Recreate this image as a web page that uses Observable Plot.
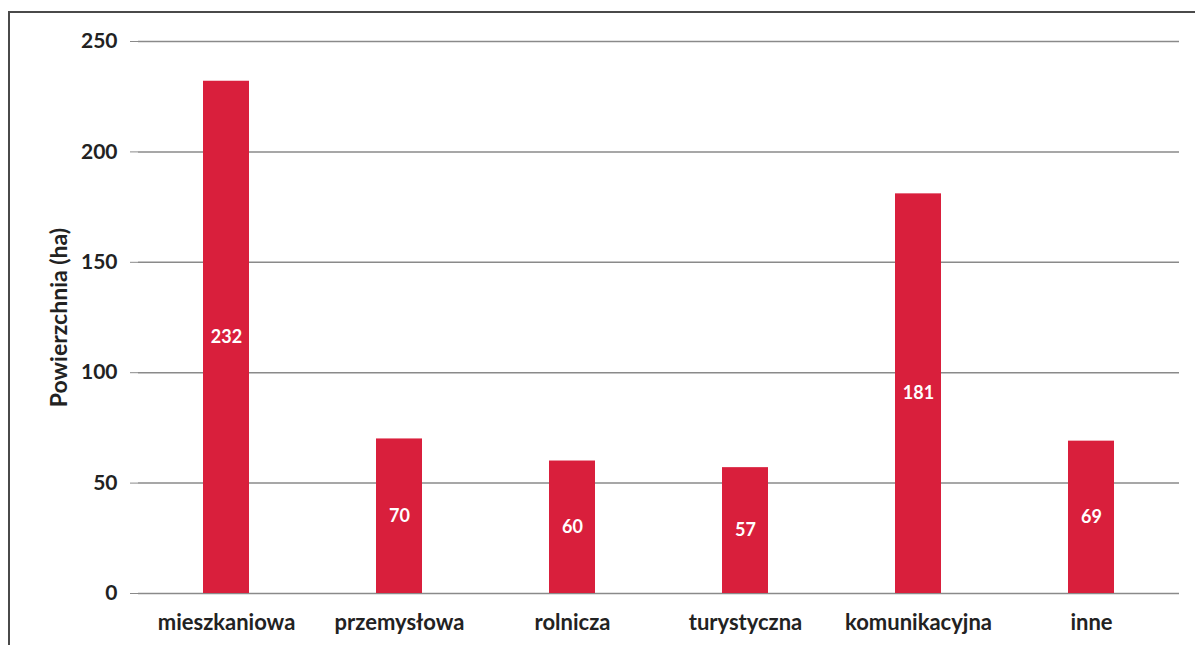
<!DOCTYPE html>
<html>
<head>
<meta charset="utf-8">
<script src="https://cdn.jsdelivr.net/npm/d3@7"></script>
<script src="https://cdn.jsdelivr.net/npm/@observablehq/plot@0.6"></script>
<style>
  html, body { margin: 0; padding: 0; background: #fff; }
  #wrap { position: relative; width: 1195px; height: 647px; overflow: hidden; }
  #frame { position: absolute; left: 8px; top: 11px; width: 1200px; height: 632px;
           border-left: 2px solid #4a4a4a; border-top: 2px solid #4a4a4a; pointer-events: none; }
  #chart { position: absolute; left: 0; top: 0; }
</style>
</head>
<body>
<div id="wrap">
  <div id="chart"></div>
  <div id="frame"></div>
</div>
<script>
const categories = ["mieszkaniowa", "przemysłowa", "rolnicza", "turystyczna", "komunikacyjna", "inne"];
const values = [232, 70, 60, 57, 181, 69];
const yTicks = [0, 50, 100, 150, 200, 250];
const yLabel = "Powierzchnia (ha)";

const data = categories.map((c, i) => ({category: c, value: values[i]}));
const font = "Lato, 'Open Sans', sans-serif";

const chart = Plot.plot({
  width: 1195,
  height: 647,
  marginLeft: 138,
  marginRight: 16,
  marginTop: 41,
  marginBottom: 54,
  style: {fontFamily: font, background: "#fff"},
  x: {domain: categories, paddingInner: 0.735, paddingOuter: 0.3675},
  y: {domain: [0, 250]},
  marks: [
    Plot.ruleY(yTicks, {stroke: "#8a8a8a", strokeWidth: 1.5}),
    Plot.ruleX([0], {frameAnchor: "left", stroke: "#a0a0a0", strokeWidth: 1.2}),
    Plot.barY(data, {x: "category", y: "value", fill: "#d91f3c"}),
    Plot.text(data, {
      x: "category", y: d => d.value / 2, text: d => String(d.value),
      fill: "white", fontWeight: "bold", fontSize: 18
    }),
    Plot.axisY({
      ticks: yTicks, tickSize: 8, tickPadding: 13, stroke: "#8a8a8a",
      fontSize: 21, fontWeight: "bold", fill: "#222", label: null
    }),
    Plot.text([yLabel], {
      text: d => d, frameAnchor: "left", textAnchor: "middle", dx: -79, rotate: -90,
      fontSize: 23, fontWeight: "bold", fill: "#222"
    }),
    Plot.axisX({
      tickSize: 0, tickPadding: 21, fontSize: 22, fontWeight: "bold", fill: "#222", label: null
    })
  ]
});
document.getElementById("chart").appendChild(chart);
</script>
</body>
</html>
